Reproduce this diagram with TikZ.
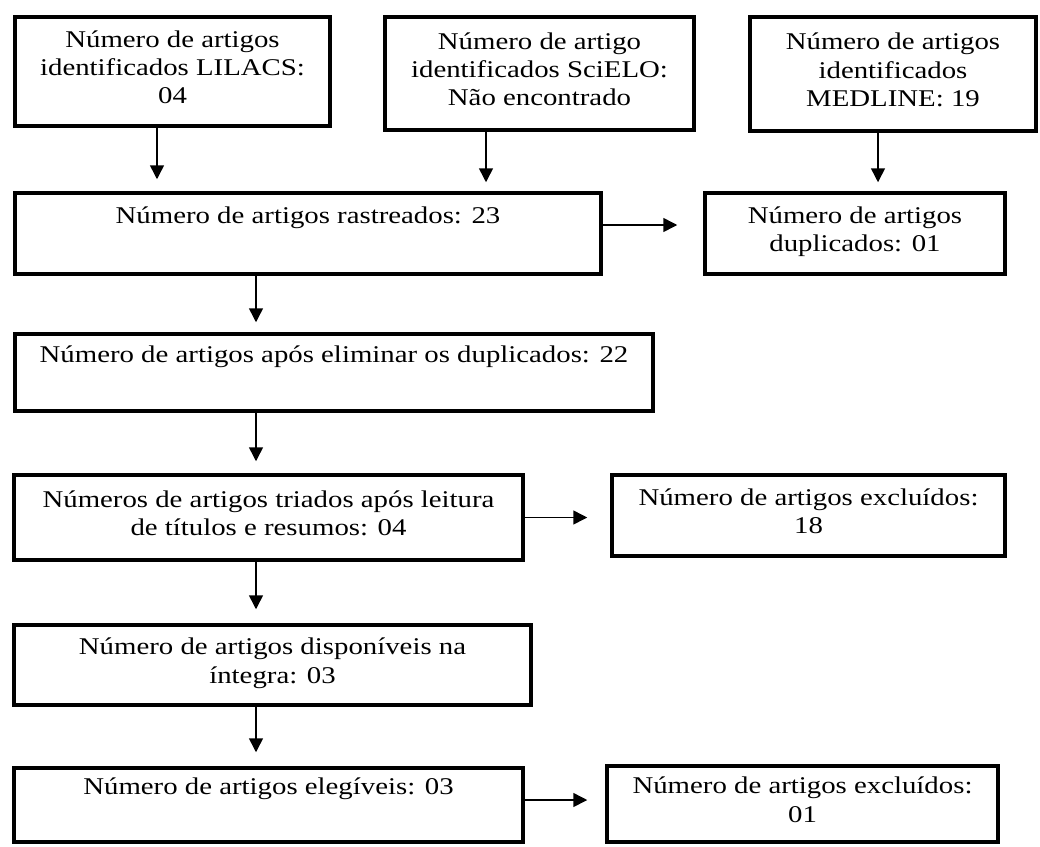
\documentclass[tikz,border=0pt]{standalone}
\usepackage{fontspec}
\setmainfont[FakeStretch=1.2]{Liberation Serif}
\usetikzlibrary{arrows.meta}
\tikzset{
  flowBox/.style={%
    draw, line width=3.5pt, align=center, inner sep=0pt,
    font=\fontsize{24}{28.3}\selectfont,
    execute at begin node=\strut, execute at end node=\strut,
  },
  flowArrow/.style={%
    line width=1.5pt, -{Triangle[length=14pt,width=14pt]}, shorten >=12pt,
  }
}

\begin{document}
\begin{tikzpicture}[x=1pt,y=-1pt]
  \useasboundingbox (0,0) rectangle (1040,846);

  % sources
  \node[flowBox,minimum width=315pt,minimum height=109pt] (lilacs) at (172.5,71.5)
    {Número de artigos\\identificados LILACS:\\04};
  \node[flowBox,minimum width=309pt,minimum height=113pt] (scielo) at (539.5,73.5)
    {Número de artigo\\identificados SciELO:\\Não encontrado};
  \node[flowBox,minimum width=286pt,minimum height=114pt] (medline) at (893,74)
    {Número de artigos\\identificados\\MEDLINE: 19};

  % main column
  \node[flowBox,minimum width=586pt,minimum height=81pt] (rastreados) at (308,233.5)
    {Número de artigos rastreados: 23\\~};
  \node[flowBox,minimum width=638pt,minimum height=77pt] (eliminados) at (334,372.5)
    {Número de artigos após eliminar os duplicados: 22\\~};
  \node[flowBox,minimum width=509pt,minimum height=85pt] (triados) at (268.5,517.5)
    {Números de artigos triados após leitura\\de títulos e resumos: 04};
  \node[flowBox,minimum width=517pt,minimum height=80pt] (integra) at (272.5,665)
    {Número de artigos disponíveis na\\íntegra: 03};
  \node[flowBox,minimum width=509pt,minimum height=74pt] (elegiveis) at (268.5,805)
    {Número de artigos elegíveis: 03\\~};

  % side boxes
  \node[flowBox,minimum width=300pt,minimum height=81pt] (duplicados) at (855,233.5)
    {Número de artigos\\duplicados: 01};
  \node[flowBox,minimum width=393pt,minimum height=81pt] (excluidosA) at (808.5,515.5)
    {Número de artigos excluídos:\\18};
  \node[flowBox,minimum width=391pt,minimum height=76pt] (excluidosB) at (802.5,804)
    {Número de artigos excluídos:\\01};

  \coordinate (colA) at (157,0);
  \coordinate (colB) at (486,0);
  \coordinate (colC) at (878,0);
  \coordinate (spine) at (256,0);
  \coordinate (rowA) at (0,225);
  \coordinate (rowC) at (0,800);

  \draw[flowArrow] (lilacs.south -| colA) -- (rastreados.north -| colA);
  \draw[flowArrow,shorten >=9pt] (scielo.south -| colB) -- (rastreados.north -| colB);
  \draw[flowArrow,shorten >=9pt] (medline.south -| colC) -- (duplicados.north -| colC);
  \draw[flowArrow,shorten >=10pt] (rastreados.south -| spine) -- (eliminados.north -| spine);
  \draw[flowArrow] (eliminados.south -| spine) -- (triados.north -| spine);
  \draw[flowArrow,shorten >=14pt] (triados.south -| spine) -- (integra.north -| spine);
  \draw[flowArrow,shorten >=14pt] (integra.south -| spine) -- (elegiveis.north -| spine);

  \draw[flowArrow,shorten >=26pt] (rastreados.east |- rowA) -- (duplicados.west |- rowA);
  \draw[flowArrow,shorten >=23pt] (triados.east) -- (excluidosA.west |- triados.east);
  \draw[flowArrow,shorten >=18pt] (elegiveis.east |- rowC) -- (excluidosB.west |- rowC);
\end{tikzpicture}
\end{document}
